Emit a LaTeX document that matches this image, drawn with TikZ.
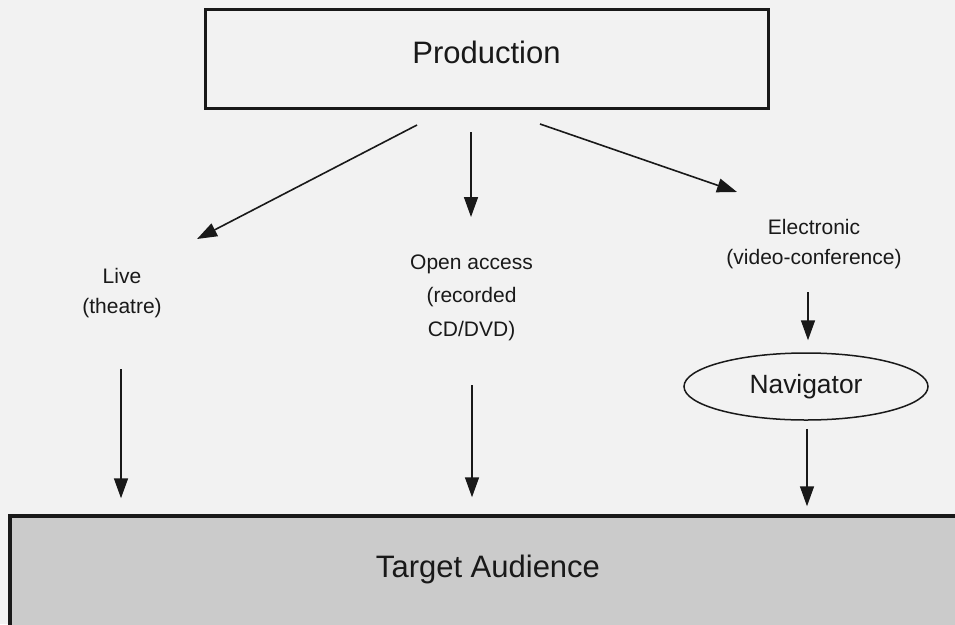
\documentclass[tikz,border=0pt]{standalone}
\usepackage{fontspec}
\setmainfont{Liberation Sans}
\usetikzlibrary{shapes.geometric,arrows.meta,calc}
\definecolor{bgcol}{RGB}{242,242,242}
\definecolor{audcol}{RGB}{203,203,203}
\definecolor{ink}{RGB}{25,25,25}
\begin{document}
\begin{tikzpicture}[x=1pt,y=-1pt,
  arr/.style={draw=ink, line width=1.6pt, -{Triangle[length=20pt,width=14pt]}},
  lbl/.style={text=ink, align=center, inner sep=0pt},
  ]
\clip (0,0) rectangle (955,624);
\fill[bgcol] (0,0) rectangle (955,624);
% nodes
\node[draw=ink, line width=3pt, minimum width=563pt, minimum height=99pt,
      text height=22.5pt, text depth=13.5pt, text=ink,
      font=\fontsize{31}{37}\selectfont] (prod) at (486.5,58.5) {Production};
\node[lbl, font=\fontsize{21}{30}\selectfont] (live) at (122,293) {Live\\(theatre)};
\node[lbl, font=\fontsize{21}{33.5}\selectfont] (open) at (471.5,297.5) {Open access\\(recorded\\CD/DVD)};
\node[lbl, font=\fontsize{21}{29.5}\selectfont] (elec) at (814,244) {Electronic\\(video-conference)};
\node[ellipse, draw=ink, line width=1.5pt, minimum width=244pt, minimum height=67pt,
      inner sep=0pt, text=ink, font=\fontsize{26.4}{32}\selectfont] (nav) at (806,386.5) {Navigator};
\node[draw=ink, fill=audcol, line width=3.5pt, anchor=north, minimum width=956pt,
      text height=40pt, text depth=60pt, inner xsep=0pt, inner ysep=21pt, text=ink,
      font=\fontsize{31}{37}\selectfont] (aud) at (488,514.25) {Target Audience};
% connectors
\draw[arr] ($(prod.south)+(-69.5,15.5)$) -- ($(live.center)+(75,-54)$);
\draw[arr] ($(prod.south)+(-15.5,22.5)$) -- ($(open.center)+(-0.5,-80.5)$);
\draw[arr] ($(prod.south)+(53.5,14.5)$) -- ($(elec.center)+(-77,-52)$);
\draw[arr] ($(elec.center)+(-6,48)$) -- ($(nav.north)+(2,-12)$);
\draw[arr] ($(nav.south)+(1,8)$) -- ($(nav.center|-aud.north)+(1,-8)$);
\draw[arr] ($(live.center)+(-1,76)$) -- ($(live.center|-aud.north)+(-1,-16)$);
\draw[arr] ($(open.center)+(0.5,87.5)$) -- ($(open.center|-aud.north)+(0.5,-17)$);
\end{tikzpicture}
\end{document}
